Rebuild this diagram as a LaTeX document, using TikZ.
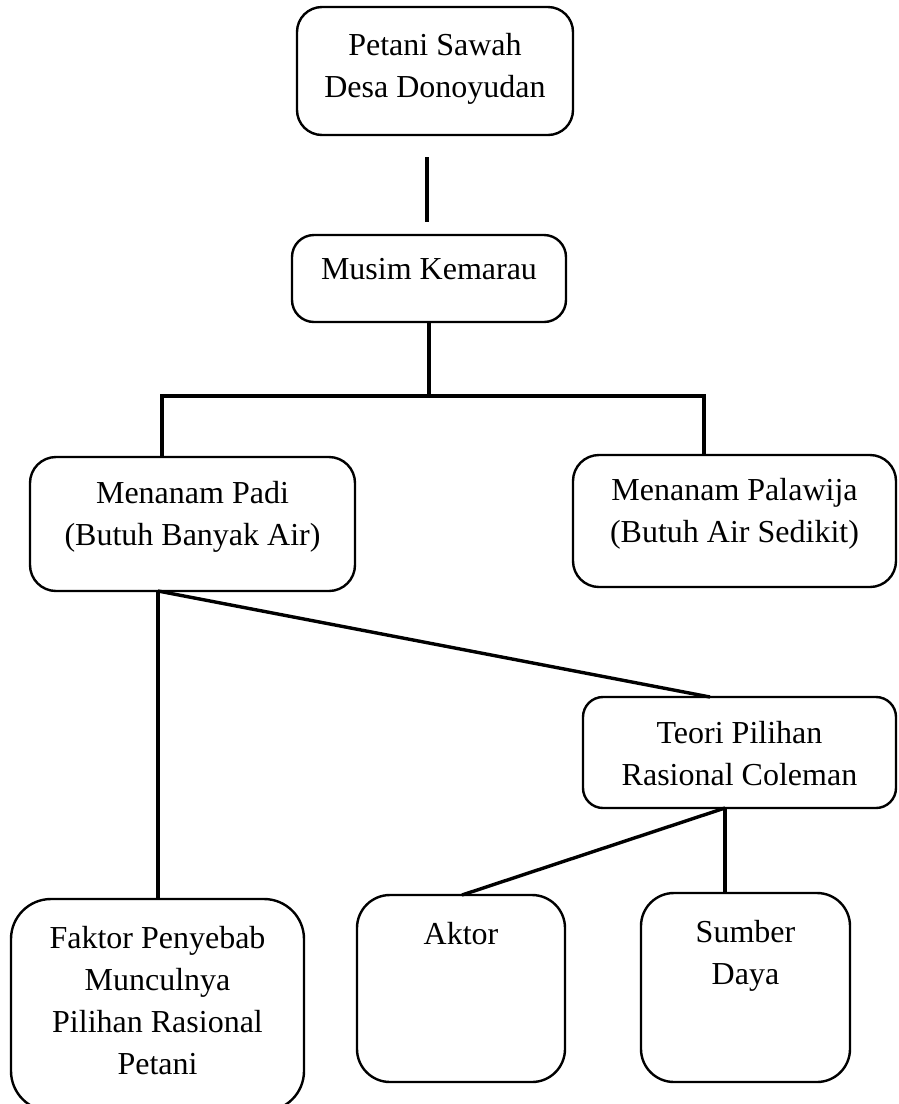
\documentclass[tikz,border=0pt]{standalone}
\usepackage{fontspec}
\setmainfont{Liberation Serif}
\usetikzlibrary{calc}
\newcommand\bxt[4]{\parbox[c][#2][t]{#1}{\centering\rule{0pt}{#3}#4\par}}
\tikzset{
  box/.style={draw, line width=2.4pt, inner sep=0pt, outer sep=0pt, anchor=north west},
  conn/.style={line width=3.4pt},
}
\begin{document}
\begin{tikzpicture}[x=1pt,y=-1pt,font=\fontsize{32}{42}\selectfont]
\useasboundingbox (0,0) rectangle (899,1104);
% boxes
\node[box, rounded corners=25pt] (petani) at (297,7) {\bxt{276pt}{128pt}{48pt}{Petani Sawah\\Desa Donoyudan}};
\node[box, rounded corners=22pt] (musim) at (292,235) {\bxt{274pt}{87pt}{44pt}{Musim Kemarau}};
\node[box, rounded corners=26pt] (padi) at (30,457) {\bxt{325pt}{134pt}{46pt}{Menanam Padi\\(Butuh Banyak Air)}};
\node[box, rounded corners=26pt] (palawija) at (573,455) {\bxt{323pt}{132pt}{45pt}{Menanam Palawija\\(Butuh Air Sedikit)}};
\node[box, rounded corners=20pt] (teori) at (583,697) {\bxt{313pt}{111pt}{46pt}{Teori Pilihan\\Rasional Coleman}};
\node[box, rounded corners=40pt] (faktor) at (11,899) {\bxt{293pt}{212pt}{49pt}{Faktor Penyebab\\Munculnya\\Pilihan Rasional\\Petani}};
\node[box, rounded corners=33pt] (aktor) at (357,895) {\bxt{208pt}{187pt}{49pt}{Aktor}};
\node[box, rounded corners=33pt] (sumber) at (641,893) {\bxt{209pt}{189pt}{49pt}{Sumber\\Daya}};
% connectors
\coordinate (g1) at (427,157);
\coordinate (g2) at (427,222);
\draw[conn] (g1) -- (g2);
\coordinate (hub) at (429,396);
\draw[conn] (musim.south) -- (hub);
\draw[conn] (padi.north -| 162,0) -- (162,396) -- (704,396) -- (palawija.north -| 704,0);
\draw[conn] (padi.south -| 158,0) -- (teori.north -| 710,0);
\draw[conn] (padi.south -| 158,0) -- (faktor.north -| 158,0);
\draw[conn] (teori.south -| 725,0) -- (aktor.north -| 462,0);
\draw[conn] (teori.south -| 725,0) -- (sumber.north -| 725,0);
\end{tikzpicture}
\end{document}
